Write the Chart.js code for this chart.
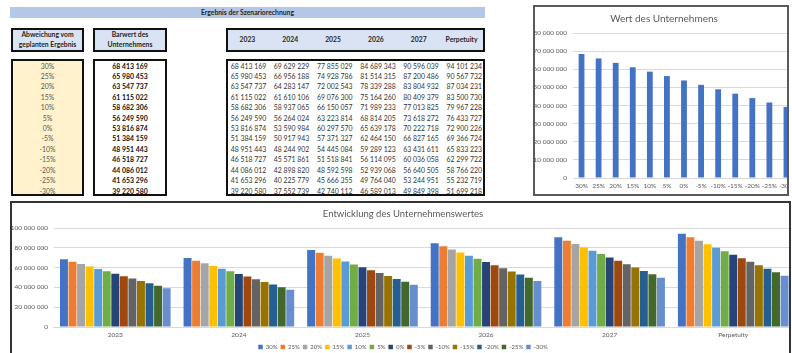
<!DOCTYPE html>
<html lang="de">
<head>
<meta charset="utf-8">
<title>Ergebnis der Szenariorechnung</title>
<script src="https://cdn.jsdelivr.net/npm/chart.js@4.4.1/dist/chart.umd.min.js"></script>
<style>
  html, body { margin: 0; padding: 0; background: #fff; overflow: hidden; }
  body { width: 792px; height: 353px; position: relative; font-family: Lato, "Open Sans", sans-serif; }
  .abs { position: absolute; box-sizing: border-box; }
  .bar { left: 10px; top: 6.5px; width: 475px; height: 11px; background: #b4c7e7;
         font-weight: 700; font-size: 6.8px; color: #1f1f1f; text-align: center; line-height: 11px; }
  .hbox { top: 27.5px; height: 24px; border: 2px solid #111; background: #dae3f3;
          font-weight: 700; font-size: 6.8px; color: #1f1f1f; display: flex; align-items: center;
          justify-content: center; text-align: center; line-height: 9.7px; }
  .body-box { top: 59px; height: 137px; border: 2px solid #111; }
  .cell { height: 10px; line-height: 10px; font-size: 6.9px; white-space: nowrap; }
  .frame { border: 2px solid #5a5a5a; z-index: 3; pointer-events: none; }
  .clip { overflow: hidden; background: #fff; }
  .clip canvas { position: absolute; }
</style>
</head>
<body>
<div id="sheet"></div>

<div class="abs clip" style="left:535px;top:7px;width:252px;height:187px;">
  <canvas id="wert" width="270" height="191" style="left:-2px;top:-2px;"></canvas>
</div>
<div class="abs frame" style="left:533px;top:5px;width:256px;height:191px;"></div>

<div class="abs clip" style="left:12px;top:203px;width:777px;height:170px;">
  <canvas id="entwicklung" width="790" height="160" style="left:-1px;top:-1px;"></canvas>
</div>
<div class="abs frame" style="left:10px;top:201px;width:781px;height:170px;border-color:#333;"></div>

<script>
// Scenario deviations from the planned result
const scenarios = ['30%', '25%', '20%', '15%', '10%', '5%', '0%', '-5%', '-10%', '-15%', '-20%', '-25%', '-30%'];
const periods = ['2023', '2024', '2025', '2026', '2027', 'Perpetuity'];

// Present value of the company per scenario
const barwert = [68413169, 65980453, 63547737, 61115022, 58682306, 56249590, 53816874, 51384159, 48951443, 46518727, 44086012, 41653296, 39220580];

// Company value per period, one entry per scenario
const v2023 = [68413169, 65980453, 63547737, 61115022, 58682306, 56249590, 53816874, 51384159, 48951443, 46518727, 44086012, 41653296, 39220580];
const v2024 = [69629229, 66956188, 64283147, 61610106, 58937065, 56264024, 53590984, 50917943, 48244902, 45571861, 42898820, 40225779, 37552739];
const v2025 = [77855029, 74928786, 72002543, 69076300, 66150057, 63223814, 60297570, 57371327, 54445084, 51518841, 48592598, 45666355, 42740112];
const v2026 = [84689343, 81514315, 78339288, 75164260, 71989233, 68814205, 65639178, 62464150, 59289123, 56114095, 52939068, 49764040, 46589013];
const v2027 = [90596039, 87200486, 83804932, 80409379, 77013825, 73618272, 70222718, 66827165, 63431611, 60036058, 56640505, 53244951, 49849398];
const vPerpetuity = [94101234, 90567732, 87034231, 83500730, 79967228, 76433727, 72900226, 69366724, 65833223, 62299722, 58766220, 55232719, 51699218];

const periodColumns = [v2023, v2024, v2025, v2026, v2027, vPerpetuity];

// Office-style series colours
const seriesColors = ['#4472C4', '#ED7D31', '#A5A5A5', '#FFC000', '#5B9BD5', '#70AD47',
                      '#264478', '#9E480E', '#636363', '#997300', '#255E91', '#43682B', '#698ED0'];

const fmt = n => String(n).replace(/\B(?=(\d{3})+(?!\d))/g, ' ');

// ---------- worksheet part ----------
const sheet = document.getElementById('sheet');
function el(cls, style, html) {
  const d = document.createElement('div');
  d.className = 'abs ' + cls;
  d.setAttribute('style', style);
  d.innerHTML = html || '';
  sheet.appendChild(d);
  return d;
}

el('bar', '', 'Ergebnis der Szenariorechnung');
el('hbox', 'left:11px;width:73px;', 'Abweichung vom<br>geplanten Ergebnis');
el('hbox', 'left:93px;width:74px;', 'Barwert des<br>Unternehmens');

const tableLeft = 226, colW = (485 - 226) / 6;
const hdr = el('hbox', 'left:226px;width:259px;justify-content:flex-start;', '');
periods.forEach((p, j) => {
  const s = document.createElement('div');
  s.style.cssText = 'width:' + colW + 'px;text-align:center;' + (j === 0 ? 'margin-left:-2px;' : '');
  s.textContent = p;
  hdr.appendChild(s);
});

el('body-box', 'left:11px;width:73px;background:#fff2cc;');
el('body-box', 'left:93px;width:74px;background:#fff;');
el('body-box', 'left:226px;width:259px;background:#fff;');

const rowY = i => 65.7 + i * 10.42 - 5.2;
scenarios.forEach((s, i) => {
  el('cell', 'left:11px;width:73px;text-align:center;color:#595959;top:' + rowY(i) + 'px;', s);
  el('cell', 'left:93px;width:74px;text-align:center;color:#111;font-weight:700;top:' + rowY(i) + 'px;', fmt(barwert[i]));
  periodColumns.forEach((col, j) => {
    el('cell', 'left:' + (tableLeft + j * colW) + 'px;width:' + (colW - 3) +
       'px;text-align:right;color:#333;top:' + rowY(i) + 'px;', fmt(col[i]));
  });
});

// ---------- charts ----------
Chart.defaults.font.family = 'Lato, "Open Sans", sans-serif';
Chart.defaults.color = '#595959';
const gridColor = '#d9d9d9';
const tickFont = { size: 6.5 };
const yTickCb = v => fmt(v);

new Chart(document.getElementById('wert'), {
  type: 'bar',
  data: {
    labels: scenarios,
    datasets: [{ label: 'Barwert des Unternehmens', data: barwert, backgroundColor: '#4472C4',
                 categoryPercentage: 1, barPercentage: 0.34 }]
  },
  options: {
    responsive: false, animation: false, devicePixelRatio: 1,
    layout: { padding: { left: 0, right: 8, top: 0, bottom: 0 } },
    plugins: {
      legend: { display: false },
      tooltip: { enabled: false },
      title: { display: true, text: 'Wert des Unternehmens', color: '#595959',
               font: { size: 10, weight: 'normal' }, padding: { top: 8, bottom: 8 } }
    },
    scales: {
      x: { grid: { display: false, drawTicks: false }, border: { color: gridColor },
           ticks: { font: tickFont, padding: 4, maxRotation: 0, autoSkip: false },
           afterFit: s => { s.height = 18; } },
      y: { min: 0, max: 80000000, border: { display: false },
           grid: { color: gridColor, drawTicks: false },
           ticks: { stepSize: 10000000, font: tickFont, padding: 6, callback: yTickCb },
           afterFit: s => { s.width = 40; } }
    }
  }
});

new Chart(document.getElementById('entwicklung'), {
  type: 'bar',
  data: {
    labels: periods,
    datasets: scenarios.map((s, i) => ({
      label: s,
      data: periodColumns.map(col => col[i]),
      backgroundColor: seriesColors[i],
      categoryPercentage: 0.9,
      barPercentage: 0.93
    }))
  },
  options: {
    responsive: false, animation: false, devicePixelRatio: 1,
    layout: { padding: { left: 0, right: 6, top: 0, bottom: 2 } },
    plugins: {
      tooltip: { enabled: false },
      title: { display: true, text: 'Entwicklung des Unternehmenswertes', color: '#595959',
               font: { size: 9.5, weight: 'normal' }, padding: { top: 6.3, bottom: 8.3 } },
      legend: { position: 'bottom',
                labels: { boxWidth: 4.5, boxHeight: 4.5, padding: 3, font: { size: 6 }, color: '#595959' } }
    },
    scales: {
      x: { grid: { display: false, drawTicks: false }, border: { color: gridColor },
           ticks: { font: tickFont, padding: 4, maxRotation: 0 },
           afterFit: s => { s.height = 14; } },
      y: { min: 0, max: 100000000, border: { display: false },
           grid: { color: gridColor, drawTicks: false },
           ticks: { stepSize: 10000000, font: tickFont, padding: 5.5, callback: yTickCb },
           afterFit: s => { s.width = 42.5; } }
    }
  }
});
</script>
</body>
</html>
